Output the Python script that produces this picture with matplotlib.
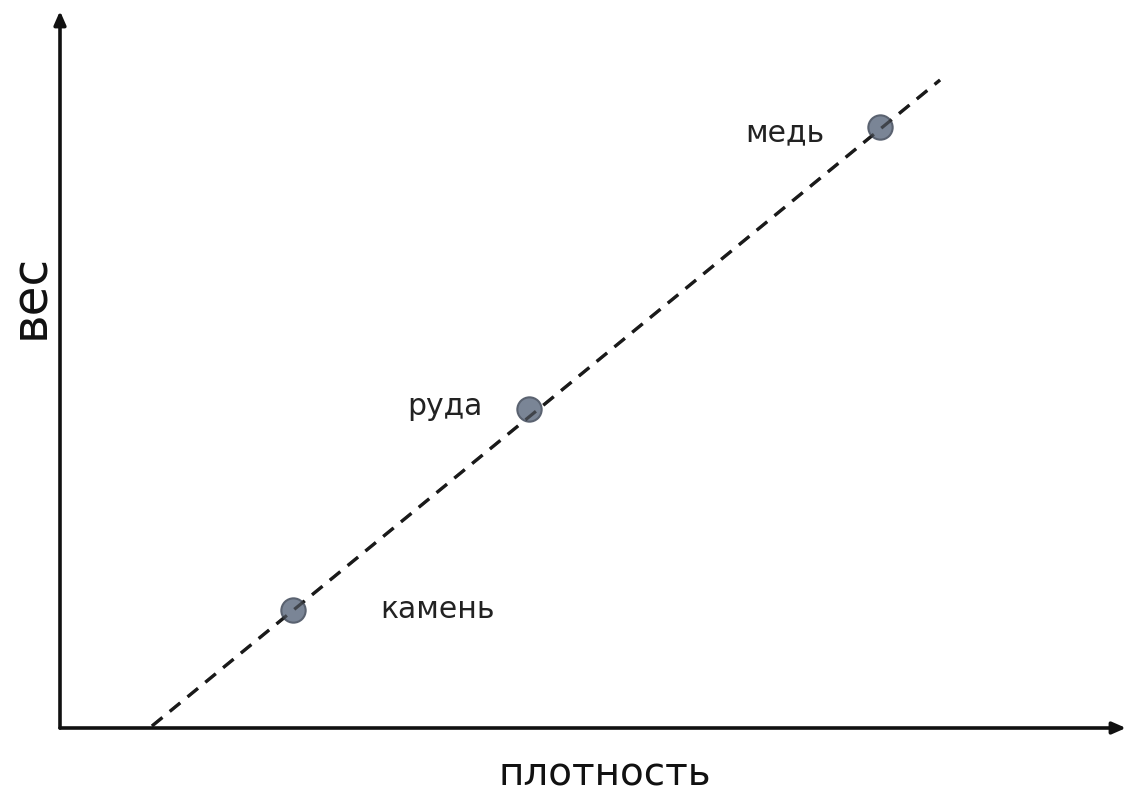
import matplotlib
matplotlib.use("Agg")
import matplotlib.pyplot as plt
import numpy as np

# Data (arbitrary units)
materials = ["камень", "руда", "медь"]
density = [2.33, 4.69, 8.20]
weight = [1.18, 3.19, 6.01]
fit_x = [0.92, 8.80]
fit_y = [0.02, 6.48]
xlabel = "плотность"
ylabel = "вес"

W, H = 1129, 792
fig = plt.figure(figsize=(W / 100, H / 100), dpi=100)
ox, oy = 60, 728
ax = fig.add_axes([ox / W, (H - oy) / H, (W - ox) / W, oy / H])
ax.set_xlim(0, (W - ox) / 100)
ax.set_ylim(0, oy / 100)
ax.axis("off")

fam = ["DejaVu Sans"]

# axes arrows
ax.annotate("", xy=(10.66, 0), xytext=(0, 0),
            arrowprops=dict(arrowstyle="-|>,head_length=0.8,head_width=0.35", lw=2.6, color="#111111",
                            shrinkA=0, shrinkB=0))
ax.annotate("", xy=(0, 7.17), xytext=(0, 0),
            arrowprops=dict(arrowstyle="-|>,head_length=0.8,head_width=0.35", lw=2.6, color="#111111",
                            shrinkA=0, shrinkB=0))

# fitted dashed line
ax.plot(fit_x, fit_y, ls=(0, (4.2, 3)), color="#1a1a1a", lw=2.3, zorder=2)

# points
ax.plot(density, weight, "o", ms=17.5, mfc="#7a8596", mec="#5a6270", mew=1.5, zorder=3)
ax.plot(fit_x, fit_y, ls=(0, (4.2, 3)), color="#1a1a1a", lw=2.3, zorder=4, alpha=0.6)

offsets = {"камень": (1.44, 0.0), "руда": (-0.84, 0.03), "медь": (-0.95, -0.06)}
for m, x, y in zip(materials, density, weight):
    dx, dy = offsets[m]
    ax.text(x + dx, y + dy, m, fontsize=21.5, family=fam, color="#222222",
            ha="center", va="center")

fig.text(605 / W, 1 - 775 / H, xlabel, fontsize=28, family=fam, ha="center", va="center", color="#111111")
fig.text(30 / W, 1 - 296 / H, ylabel, fontsize=35, family=fam, ha="center", va="center",
         rotation=90, color="#111111")

fig.savefig("out.png", dpi=100)
